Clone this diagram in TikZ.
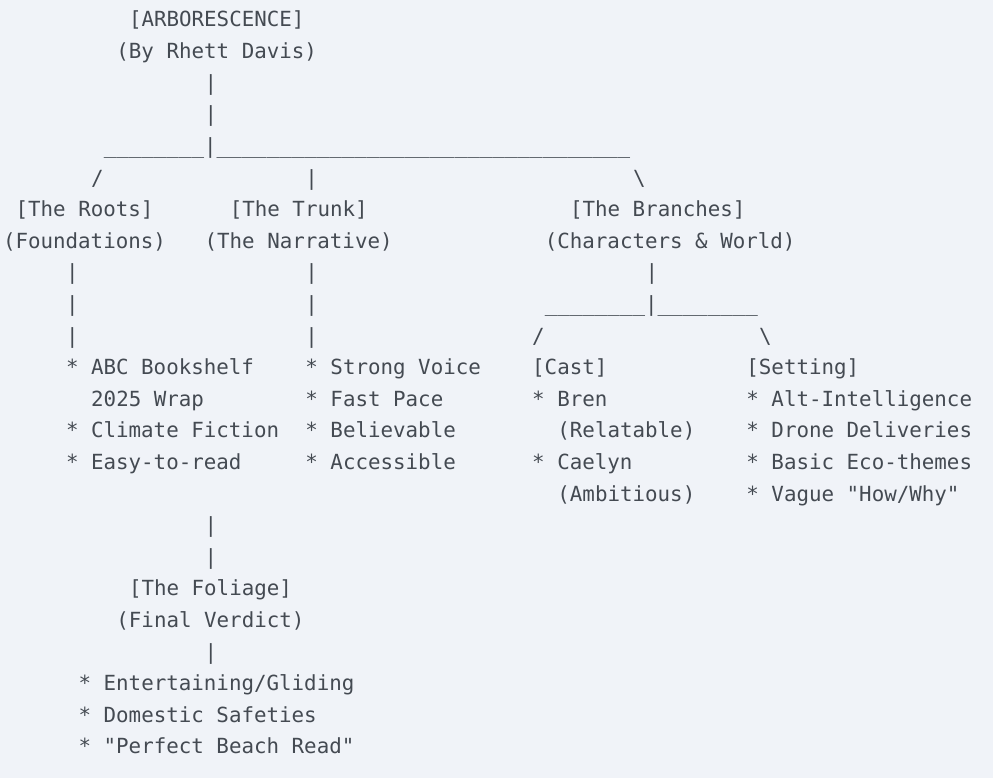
\documentclass[tikz,border=0pt]{standalone}
\usepackage{fontspec}
\setmonofont{DejaVu Sans Mono}
\definecolor{paper}{HTML}{F0F3F8}
\definecolor{ink}{HTML}{444A52}

\begin{document}
\begin{tikzpicture}[x=1bp,y=1bp]
\tikzstyle{txt}=[anchor=base west,inner sep=0pt,outer sep=0pt,text=ink,font=\ttfamily\fontsize{20.9}{24}\selectfont]
\newcommand{\cell}[4]{\node[txt] (#3) at ({3+12.6*#1},{-27-31.6*#2}) {#4};}

\fill[paper] (0,0) rectangle (993,-778);
\useasboundingbox (0,0) rectangle (993,-778);

% title
\cell{10}{0}{title}{[ARBORESCENCE]}
\cell{9}{1}{author}{(By Rhett Davis)}
\cell{16}{2}{stemA}{|}
\cell{16}{3}{stemB}{|}
\cell{8}{4}{bar}{\_\_\_\_\_\_\_\_|\_\_\_\_\_\_\_\_\_\_\_\_\_\_\_\_\_\_\_\_\_\_\_\_\_\_\_\_\_\_\_\_\_}
\cell{7}{5}{slashL}{/}
\cell{24}{5}{slashM}{|}
\cell{50}{5}{slashR}{\textbackslash}

% three main parts
\cell{1}{6}{roots}{[The Roots]}
\cell{18}{6}{trunk}{[The Trunk]}
\cell{45}{6}{branches}{[The Branches]}
\cell{0}{7}{rootsSub}{(Foundations)}
\cell{16}{7}{trunkSub}{(The Narrative)}
\cell{43}{7}{branchesSub}{(Characters \& World)}

\cell{5}{8}{rA}{|}
\cell{5}{9}{rB}{|}
\cell{5}{10}{rC}{|}
\cell{24}{8}{tA}{|}
\cell{24}{9}{tB}{|}
\cell{24}{10}{tC}{|}
\cell{51}{8}{bA}{|}
\cell{43}{9}{bBar}{\_\_\_\_\_\_\_\_|\_\_\_\_\_\_\_\_}
\cell{42}{10}{bL}{/}
\cell{60}{10}{bR}{\textbackslash}

% roots
\cell{5}{11}{rootsA}{* ABC Bookshelf}
\cell{7}{12}{rootsB}{2025 Wrap}
\cell{5}{13}{rootsC}{* Climate Fiction}
\cell{5}{14}{rootsD}{* Easy-to-read}

% trunk
\cell{24}{11}{trunkA}{* Strong Voice}
\cell{24}{12}{trunkB}{* Fast Pace}
\cell{24}{13}{trunkC}{* Believable}
\cell{24}{14}{trunkD}{* Accessible}

% cast
\cell{42}{11}{cast}{[Cast]}
\cell{42}{12}{castA}{* Bren}
\cell{44}{13}{castB}{(Relatable)}
\cell{42}{14}{castC}{* Caelyn}
\cell{44}{15}{castD}{(Ambitious)}

% setting
\cell{59}{11}{setting}{[Setting]}
\cell{59}{12}{settingA}{* Alt-Intelligence}
\cell{59}{13}{settingB}{* Drone Deliveries}
\cell{59}{14}{settingC}{* Basic Eco-themes}
\cell{59}{15}{settingD}{* Vague "How/Why"}

% foliage
\cell{16}{16}{fA}{|}
\cell{16}{17}{fB}{|}
\cell{10}{18}{foliage}{[The Foliage]}
\cell{9}{19}{foliageSub}{(Final Verdict)}
\cell{16}{20}{fC}{|}
\cell{6}{21}{foliageA}{* Entertaining/Gliding}
\cell{6}{22}{foliageB}{* Domestic Safeties}
\cell{6}{23}{foliageC}{* "Perfect Beach Read"}

\end{tikzpicture}
\end{document}
